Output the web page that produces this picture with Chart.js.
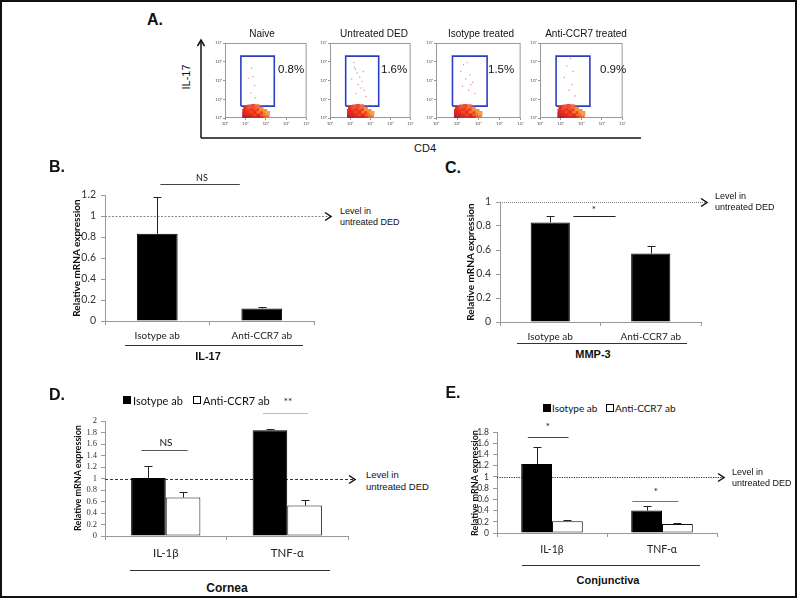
<!DOCTYPE html>
<html>
<head>
<meta charset="utf-8">
<script src="https://cdn.jsdelivr.net/npm/chart.js@4.4.0/dist/chart.umd.min.js"></script>
<style>
body { margin: 0; background: #fff; }
#page { position: relative; width: 797px; height: 598px; overflow: hidden; font-family: "Liberation Sans", Arial, sans-serif; color: #111; }
#frame { position: absolute; left: 0; top: 0; width: 793px; height: 594px; border: 2px solid #111; }
canvas { position: absolute; }
.t { position: absolute; white-space: nowrap; line-height: 1; }
.cc { transform: translate(-50%, -50%); }
.lc { transform: translate(0, -50%); }
.rot { transform: translate(-50%, -50%) rotate(-90deg); }
.lt { font-family: Lato, sans-serif; }
.big { font-size: 16px; font-weight: bold; }
.grp { font-size: 11px; font-weight: bold; }
.ytl { font-family: Lato, sans-serif; font-size: 10px; font-weight: bold; }
.lvl { font-size: 9px; line-height: 11px; }
.sq { position: absolute; width: 6px; height: 6px; background: #000; border: 1px solid #000; transform: translate(0, -50%); }
.sq.w { background: #fff; }
svg { position: absolute; left: 0; top: 0; }
</style>
</head>
<body>
<div id="page">
  <div id="frame"></div>
  <svg width="797" height="598">
    <g stroke="#111" stroke-width="1.5" fill="none">
      <line x1="201" y1="138" x2="201" y2="41"/>
      <polyline points="197.5,46 201,40 204.5,46"/>
      <line x1="201" y1="138" x2="641" y2="138"/>
    </g>
    <g stroke="#333" stroke-width="1">
      <line x1="125" y1="345.5" x2="303" y2="345.5"/>
      <line x1="517" y1="343.5" x2="687" y2="343.5"/>
      <line x1="130" y1="570.5" x2="330" y2="570.5"/>
      <line x1="522" y1="565.5" x2="700" y2="565.5"/>
    </g>
  </svg>

  <canvas id="flow0"></canvas>
  <canvas id="flow1"></canvas>
  <canvas id="flow2"></canvas>
  <canvas id="flow3"></canvas>
  <canvas id="chartB"></canvas>
  <canvas id="chartC"></canvas>
  <canvas id="chartD"></canvas>
  <canvas id="chartE"></canvas>

  <!-- panel A text -->
  <div class="t cc big" style="left:155px;top:20px">A.</div>
  <div class="t rot" style="left:186px;top:77px;font-size:11px">IL-17</div>
  <div class="t cc" style="left:425px;top:148px;font-size:11px">CD4</div>
  <div id="flowText"></div>

  <!-- panel B -->
  <div class="t cc big" style="left:57px;top:167px">B.</div>
  <div class="t rot ytl" style="left:76px;top:258px">Relative mRNA expression</div>
  <div class="t cc lt" style="left:202px;top:177px;font-size:9px">NS</div>
  <div class="t lvl" style="left:340px;top:206px">Level in<br>untreated DED</div>
  <div class="t cc grp" style="left:208px;top:356px">IL-17</div>

  <!-- panel C -->
  <div class="t cc big" style="left:453px;top:168px">C.</div>
  <div class="t rot ytl" style="left:470px;top:262px">Relative mRNA expression</div>
  <div class="t cc lt" style="left:594px;top:209px;font-size:10px">*</div>
  <div class="t lvl" style="left:715px;top:191px">Level in<br>untreated DED</div>
  <div class="t cc grp" style="left:593px;top:354px">MMP-3</div>

  <!-- panel D -->
  <div class="t cc big" style="left:57px;top:395px">D.</div>
  <div class="sq" style="left:123px;top:400px"></div>
  <div class="t lc lt" style="left:133px;top:400px;font-size:11px">Isotype ab</div>
  <div class="sq w" style="left:193px;top:400px"></div>
  <div class="t lc lt" style="left:203px;top:400px;font-size:11px">Anti-CCR7 ab</div>
  <div class="t cc lt" style="left:288px;top:401px;font-size:10px">**</div>
  <div class="t rot ytl" style="left:77px;top:478px;font-size:9px">Relative mRNA expression</div>
  <div class="t cc lt" style="left:166px;top:442px;font-size:10px">NS</div>
  <div class="t lvl" style="left:366px;top:469px;font-size:9.5px;line-height:12px">Level in<br>untreated DED</div>
  <div class="t cc grp" style="left:227px;top:588px;font-size:12px">Cornea</div>

  <!-- panel E -->
  <div class="t cc big" style="left:453px;top:393px">E.</div>
  <div class="sq" style="left:543px;top:408px"></div>
  <div class="t lc lt" style="left:552px;top:408px;font-size:10px">Isotype ab</div>
  <div class="sq w" style="left:606px;top:408px"></div>
  <div class="t lc lt" style="left:615px;top:408px;font-size:10px">Anti-CCR7 ab</div>
  <div class="t rot ytl" style="left:474px;top:483px;font-size:9px">Relative mRNA expression</div>
  <div class="t cc lt" style="left:548px;top:426px;font-size:10px">*</div>
  <div class="t cc lt" style="left:656px;top:491px;font-size:10px">*</div>
  <div class="t lvl" style="left:732px;top:467px">Level in<br>untreated DED</div>
  <div class="t cc grp" style="left:608px;top:580px">Conjunctiva</div>
</div>

<script>
// ---- panel A: flow plots, log axes 10^0..10^4 ----
const flowTitles = ["Naive", "Untreated DED", "Isotype treated", "Anti-CCR7 treated"];
const flowPercent = ["0.8%", "1.6%", "1.5%", "0.9%"];
const flowTicks = [1, 10, 100, 1000, 10000];
const gateX = [6, 6, 260, 260, 6];
const gateY = [4.3, 2000, 2000, 4.3, 4.3];

// CD4+ IL-17- bulk (same shape in every plot)
const cloudX = [9, 13, 20, 30, 45, 68, 95,
                9, 13, 20, 30, 45, 68, 95,
                9, 13, 20, 30, 45, 68, 90,
                10, 14, 20, 30, 44, 60,
                115, 125, 24, 38, 16];
const cloudY = [1.15, 1.15, 1.15, 1.15, 1.15, 1.15, 1.15,
                1.6, 1.6, 1.6, 1.6, 1.6, 1.6, 1.6,
                2.3, 2.3, 2.3, 2.3, 2.3, 2.3, 2.3,
                3.2, 3.3, 3.4, 3.3, 3.1, 3,
                1.3, 1.8, 4.3, 4.1, 4];
const cloudColors = ['#9a1e44', '#b0203e', '#c42434', '#d8281e', '#c8243a', '#e0301c', '#e8501e',
                     '#c02440', '#d8281e', '#e62a1c', '#f04020', '#e8281c', '#f2601e', '#f07a30',
                     '#e2281e', '#ea2c1c', '#f2481e', '#ee2c1c', '#f47a28', '#ea3a1e', '#f29040',
                     '#ea2e1e', '#f0401e', '#e8281c', '#f2581e', '#ee3a1e', '#f4903a',
                     '#f06a30', '#f4a050', '#ee4a3a', '#f06a48', '#ec5040'];

// IL-17+ events inside the gate
const gatedX = [
  [20, 14, 24, 28, 18, 30],
  [15, 18, 22, 30, 12, 40, 25, 35, 50, 20, 60, 16, 45],
  [20, 30, 15, 40, 25, 55, 18, 35, 70, 45],
  [30, 20, 40, 15, 35, 25, 50]
];
const gatedY = [
  [450, 130, 160, 55, 22, 12],
  [900, 400, 250, 150, 120, 90, 60, 40, 30, 20, 14, 500, 300],
  [700, 900, 300, 200, 120, 80, 50, 30, 20, 60],
  [1500, 600, 300, 150, 60, 30, 15]
];

// ---- panel B: IL-17 ----
const bCats = ["Isotype ab", "Anti-CCR7 ab"];
const bVals = [0.83, 0.12];
const bErr = [0.35, 0.01];

// ---- panel C: MMP-3 ----
const cCats = ["Isotype ab", "Anti-CCR7 ab"];
const cVals = [0.83, 0.57];
const cErr = [0.05, 0.06];

// ---- panel D: cornea ----
const dCats = ["IL-1β", "TNF-α"];
const dIso = [1.01, 1.84];
const dIsoErr = [0.21, 0.02];
const dAnti = [0.67, 0.53];
const dAntiErr = [0.10, 0.09];

// ---- panel E: conjunctiva ----
const eCats = ["IL-1β", "TNF-α"];
const eIso = [1.23, 0.40];
const eIsoErr = [0.30, 0.09];
const eAnti = [0.21, 0.16];
const eAntiErr = [0.03, 0.01];

Chart.defaults.font.family = 'Lato, sans-serif';
Chart.defaults.color = '#222';
Chart.defaults.animation = false;

function place(id, r) {
    const c = document.getElementById(id);
    c.width = r.width;
    c.height = r.height;
    c.style.left = r.left + 'px';
    c.style.top = r.top + 'px';
    c.style.width = r.width + 'px';
    c.style.height = r.height + 'px';
    return c;
}

const boxPlugin = {
    id: 'box',
    beforeDatasetsDraw(chart) {
        const a = chart.chartArea, ctx = chart.ctx;
        ctx.save();
        ctx.strokeStyle = '#999';
        ctx.lineWidth = 1;
        ctx.strokeRect(a.left + 0.5, a.top + 0.5, a.width - 1, a.height - 1);
        ctx.restore();
    }
};

const sup = ['⁰', '¹', '²', '³', '⁴'];
const flowBoxL = [225, 330, 436, 540];
const flowBoxW = [82, 81, 85, 83];
const flowTextX = [262, 374, 481, 586];
const flowPctX = [278, 381, 488, 600];

function logAxis(size) {
    return {
        type: 'logarithmic', min: 1, max: 10000,
        afterBuildTicks: s => { s.ticks = flowTicks.map(v => ({ value: v })); },
        afterFit: s => { if (s.isHorizontal()) s.height = size; else s.width = size; },
        ticks: {
            font: { size: 4.5 }, color: '#555', padding: 1, autoSkip: false, maxRotation: 0,
            callback: v => '10' + sup[Math.round(Math.log10(v))]
        },
        grid: { display: true, drawOnChartArea: false, tickLength: 2, color: '#999' },
        border: { display: false }
    };
}

let flowHtml = '';
flowTitles.forEach((title, i) => {
    const c = place('flow' + i, { left: flowBoxL[i] - 14, top: 38, width: flowBoxW[i] + 18, height: 90 });
    new Chart(c, {
        type: 'scatter',
        data: {
            datasets: [
                {
                    data: cloudX.map((x, k) => ({ x, y: cloudY[k] })),
                    pointStyle: 'rect', pointRadius: 3.1, borderWidth: 0,
                    backgroundColor: cloudColors
                },
                {
                    data: gatedX[i].map((x, k) => ({ x, y: gatedY[i][k] })),
                    pointRadius: 0.7, borderWidth: 0,
                    backgroundColor: 'rgba(225,80,100,0.7)'
                },
                {
                    data: gateX.map((x, k) => ({ x, y: gateY[k] })),
                    showLine: true, pointRadius: 0, borderColor: '#2b3fc4', borderWidth: 1.6, fill: false
                }
            ]
        },
        options: {
            responsive: false,
            events: [],
            layout: { padding: { top: 5, right: 4, left: 0, bottom: 0 } },
            plugins: { legend: { display: false }, tooltip: { enabled: false } },
            scales: { x: logAxis(10), y: logAxis(14) }
        },
        plugins: [boxPlugin]
    });
    flowHtml += `<div class="t cc" style="left:${flowTextX[i]}px;top:34px;font-size:10px">${title}</div>`;
    flowHtml += `<div class="t lc" style="left:${flowPctX[i]}px;top:70px;font-size:11.5px">${flowPercent[i]}</div>`;
});
document.getElementById('flowText').outerHTML = flowHtml;

// reference line at 1, error bars, significance brackets
const decorPlugin = {
    id: 'decor',
    beforeDatasetsDraw(chart, args, opts) {
        const ctx = chart.ctx, y = chart.scales.y, a = chart.chartArea, r = opts.ref;
        const yy = Math.round(y.getPixelForValue(r.value)) + 0.5;
        ctx.save();
        ctx.strokeStyle = r.color;
        ctx.lineWidth = r.width;
        ctx.setLineDash(r.dash);
        ctx.beginPath();
        ctx.moveTo(a.left, yy);
        ctx.lineTo(r.end, yy);
        ctx.stroke();
        ctx.setLineDash([]);
        ctx.strokeStyle = '#111';
        ctx.lineWidth = 1.5;
        ctx.beginPath();
        ctx.moveTo(r.end - 6, yy - 4);
        ctx.lineTo(r.end, yy);
        ctx.lineTo(r.end - 6, yy + 4);
        ctx.stroke();
        ctx.restore();
    },
    afterDatasetsDraw(chart, args, opts) {
        const ctx = chart.ctx, x = chart.scales.x, y = chart.scales.y;
        ctx.save();
        ctx.lineWidth = 1;
        chart.data.datasets.forEach((ds, i) => {
            if (!ds.errs) return;
            ctx.strokeStyle = '#222';
            chart.getDatasetMeta(i).data.forEach((bar, j) => {
                const bx = Math.round(bar.x) + 0.5;
                const top = Math.round(y.getPixelForValue(ds.data[j] + ds.errs[j])) + 0.5;
                ctx.beginPath();
                ctx.moveTo(bx, bar.y);
                ctx.lineTo(bx, top);
                ctx.moveTo(bx - 4, top);
                ctx.lineTo(bx + 4, top);
                ctx.stroke();
            });
        });
        (opts.brackets || []).forEach(b => {
            const yy = Math.round(y.getPixelForValue(b.at)) + 0.5;
            ctx.strokeStyle = b.color || '#444';
            ctx.beginPath();
            ctx.moveTo(x.getPixelForValue(b.from), yy);
            ctx.lineTo(x.getPixelForValue(b.to), yy);
            ctx.stroke();
        });
        ctx.restore();
    }
};

function makeBar(id, r, cats, datasets, yMax, tickFont, ref, brackets) {
    const c = place(id, r);
    return new Chart(c, {
        type: 'bar',
        data: { labels: cats, datasets },
        options: {
            responsive: false,
            events: [],
            layout: { padding: { top: r.padT, right: r.padR, left: 0, bottom: 0 } },
            plugins: {
                legend: { display: false },
                tooltip: { enabled: false },
                decor: { ref: Object.assign({ value: 1 }, ref, { end: ref.end - r.left }), brackets }
            },
            scales: {
                x: {
                    afterFit: s => { s.height = r.xH; },
                    ticks: { font: { size: r.xFont }, color: '#222', padding: r.xPad, maxRotation: 0 },
                    grid: { offset: true, drawOnChartArea: false, tickLength: 4, color: '#999' },
                    border: { color: '#999' }
                },
                y: {
                    min: 0, max: yMax,
                    afterFit: s => { s.width = r.yW; },
                    ticks: {
                        stepSize: 0.2, autoSkip: false, font: tickFont, color: '#333', padding: r.yPad,
                        callback: v => String(Number(v.toFixed(1)))
                    },
                    grid: { drawOnChartArea: false, tickLength: 4, color: '#999' },
                    border: { color: '#999' }
                }
            }
        },
        plugins: [decorPlugin]
    });
}

function blackBars(vals, errs, pct) {
    return [{ data: vals, errs, backgroundColor: '#000', borderColor: '#000', borderWidth: 1,
              barPercentage: pct, categoryPercentage: 1 }];
}

function pairBars(iso, isoErr, anti, antiErr, pct) {
    return [
        { label: 'Isotype ab', data: iso, errs: isoErr, backgroundColor: '#000', borderColor: '#000',
          borderWidth: 1, barPercentage: 1, categoryPercentage: pct },
        { label: 'Anti-CCR7 ab', data: anti, errs: antiErr, backgroundColor: '#fff', borderColor: '#111',
          borderWidth: 1, borderSkipped: false, barPercentage: 1, categoryPercentage: pct }
    ];
}

makeBar('chartB',
    { left: 60, top: 170, width: 280, height: 175, yW: 45, xH: 24, padT: 25, padR: 26, xFont: 10, xPad: 5, yPad: 5 },
    bCats, blackBars(bVals, bErr, 0.39), 1.2, { size: 10.5 },
    { end: 331, color: '#888', width: 1, dash: [2, 1.5] },
    [{ from: 0.03, to: 0.79, at: 1.305 }]);

makeBar('chartC',
    { left: 455, top: 190, width: 265, height: 156, yW: 45, xH: 24, padT: 12, padR: 19, xFont: 10, xPad: 5, yPad: 5 },
    cCats, blackBars(cVals, cErr, 0.39), 1, { size: 10.5 },
    { end: 707, color: '#888', width: 1.2, dash: [1, 1] },
    [{ from: 0.23, to: 0.65, at: 0.883, color: '#222' }]);

makeBar('chartD',
    { left: 60, top: 405, width: 302, height: 157, yW: 45, xH: 26, padT: 16, padR: 14, xFont: 11.5, xPad: 6, yPad: 4 },
    dCats, pairBars(dIso, dIsoErr, dAnti, dAntiErr, 0.57), 2, { size: 8.5, family: '"Liberation Serif", serif' },
    { end: 355, color: '#333', width: 1, dash: [3, 2] },
    [{ from: -0.2, to: 0.18, at: 1.5, color: '#555' }, { from: 0.8, to: 1.17, at: 2.14, color: '#bbb' }]);

makeBar('chartE',
    { left: 452, top: 415, width: 308, height: 145, yW: 45, xH: 27, padT: 17, padR: 43, xFont: 10.5, xPad: 6, yPad: 4 },
    eCats, pairBars(eIso, eIsoErr, eAnti, eAntiErr, 0.56), 1.8, { size: 8.5 },
    { end: 724, color: '#333', width: 1.2, dash: [1.2, 1.2] },
    [{ from: -0.22, to: 0.15, at: 1.71, color: '#444' }, { from: 0.73, to: 1.15, at: 0.57, color: '#777' }]);
</script>
</body>
</html>
